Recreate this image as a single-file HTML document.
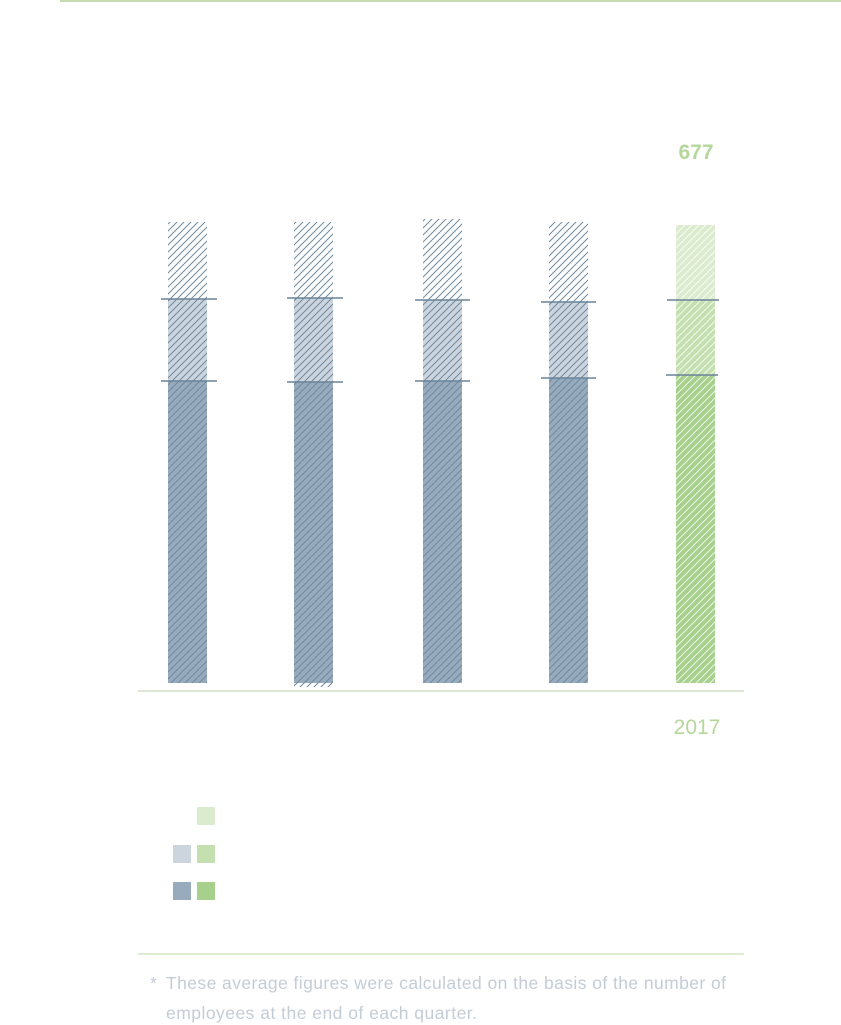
<!DOCTYPE html>
<html><head><meta charset="utf-8"><style>
html,body{margin:0;padding:0;background:#fff;width:841px;height:1025px;overflow:hidden}
svg{display:block}
text{font-family:"Liberation Sans",sans-serif}
</style></head><body>
<svg width="841" height="1025" viewBox="0 0 841 1025" xmlns="http://www.w3.org/2000/svg">
<defs>
<pattern id="hg" width="7" height="7" patternUnits="userSpaceOnUse">
<path d="M-1,8 L8,-1 M-4,4 L4,-4 M3,11 L11,3" stroke="#6f8aa1" stroke-width="1"/>
</pattern>
<pattern id="hw" width="7" height="7" patternUnits="userSpaceOnUse">
<path d="M-1,8 L8,-1 M-4,4 L4,-4 M3,11 L11,3" stroke="#ffffff" stroke-width="1" opacity="0.8"/>
</pattern>
</defs>
<line x1="60" y1="1" x2="841" y2="1" stroke="#c5dcb0" stroke-width="2"/>
<text x="696" y="159" fill="#b5d79c" font-size="21" font-weight="bold" text-anchor="middle">677</text>
<g>
<rect x="168" y="222" width="39" height="77" fill="#fff"/>
<rect x="168" y="299" width="39" height="82" fill="#ccd5de"/>
<rect x="168" y="381" width="39" height="302" fill="#97abbc"/>
<rect x="168" y="222" width="39" height="461" fill="url(#hg)"/>
<line x1="161" y1="299" x2="217" y2="299" stroke="#6a8399" stroke-width="1.5"/>
<line x1="161" y1="381" x2="217" y2="381" stroke="#6a8399" stroke-width="1.5"/>

<rect x="294" y="222" width="39" height="76" fill="#fff"/>
<rect x="294" y="298" width="39" height="84" fill="#ccd5de"/>
<rect x="294" y="382" width="39" height="301" fill="#97abbc"/>
<rect x="294" y="222" width="39" height="465" fill="url(#hg)"/>
<line x1="287" y1="298" x2="343" y2="298" stroke="#6a8399" stroke-width="1.5"/>
<line x1="287" y1="382" x2="343" y2="382" stroke="#6a8399" stroke-width="1.5"/>

<rect x="423" y="219" width="39" height="81" fill="#fff"/>
<rect x="423" y="300" width="39" height="81" fill="#ccd5de"/>
<rect x="423" y="381" width="39" height="302" fill="#97abbc"/>
<rect x="423" y="219" width="39" height="464" fill="url(#hg)"/>
<line x1="415" y1="300" x2="470" y2="300" stroke="#6a8399" stroke-width="1.5"/>
<line x1="415" y1="381" x2="470" y2="381" stroke="#6a8399" stroke-width="1.5"/>

<rect x="549" y="222" width="39" height="80" fill="#fff"/>
<rect x="549" y="302" width="39" height="76" fill="#ccd5de"/>
<rect x="549" y="378" width="39" height="305" fill="#97abbc"/>
<rect x="549" y="222" width="39" height="461" fill="url(#hg)"/>
<line x1="541" y1="302" x2="596" y2="302" stroke="#6a8399" stroke-width="1.5"/>
<line x1="541" y1="378" x2="596" y2="378" stroke="#6a8399" stroke-width="1.5"/>
</g>
<rect x="676" y="225" width="39" height="75" fill="#dbebcd"/>
<rect x="676" y="300" width="39" height="75" fill="#c5e0b0"/>
<rect x="676" y="375" width="39" height="308" fill="#a7d08c"/>
<rect x="676" y="225" width="39" height="458" fill="url(#hw)"/>
<line x1="667" y1="300" x2="719" y2="300" stroke="#6a8399" stroke-width="1.5"/>
<line x1="666" y1="375" x2="718" y2="375" stroke="#6a8399" stroke-width="1.5"/>

<line x1="138" y1="691" x2="744" y2="691" stroke="#cbd7c0" stroke-width="1.2"/>
<text x="697" y="734" fill="#b5d79c" font-size="21" text-anchor="middle">2017</text>

<rect x="197" y="807" width="18" height="18" fill="#dbebcd"/>
<rect x="173" y="845" width="18" height="18" fill="#ccd5de"/>
<rect x="197" y="845" width="18" height="18" fill="#c5e0b0"/>
<rect x="173" y="882" width="18" height="18" fill="#97abbc"/>
<rect x="197" y="882" width="18" height="18" fill="#a7d08c"/>

<line x1="138" y1="954" x2="744" y2="954" stroke="#d3e6c3" stroke-width="1.5"/>
<text x="150" y="989" fill="#c4ccd6" font-size="17.5">*</text>
<text x="166" y="989" fill="#c4ccd6" font-size="17.5" textLength="560">These average figures were calculated on the basis of the number of</text>
<text x="166" y="1019" fill="#c4ccd6" font-size="17.5" textLength="311">employees at the end of each quarter.</text>
</svg>
</body></html>
